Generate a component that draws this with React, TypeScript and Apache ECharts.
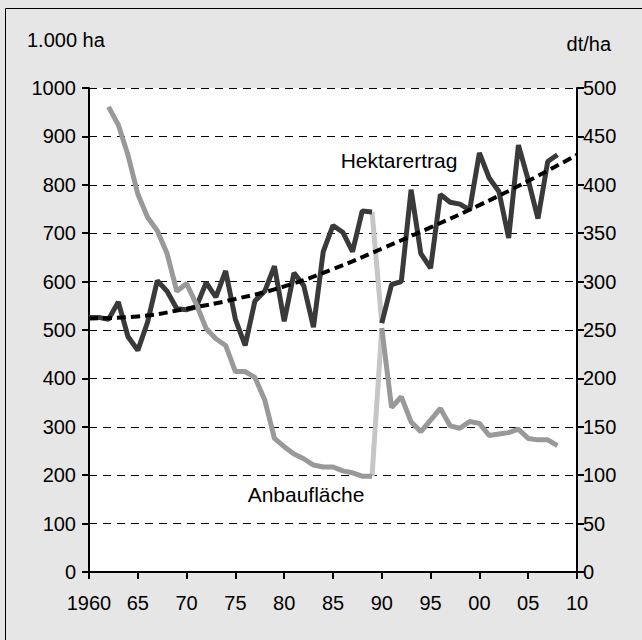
import React, { useEffect, useRef } from "react";
import * as echarts from "echarts";

// Anbaufläche (1.000 ha), früheres Bundesgebiet 1962-1989
const anbauWestYears = [1962, 1963, 1964, 1965, 1966, 1967, 1968, 1969, 1970, 1971, 1972, 1973, 1974, 1975, 1976, 1977, 1978, 1979, 1980, 1981, 1982, 1983, 1984, 1985, 1986, 1987, 1988, 1989];
const anbauWest = [961, 924, 861, 781, 733, 705, 658, 580, 596, 553, 503, 482, 468, 414, 414, 402, 356, 276, 259, 244, 234, 221, 217, 217, 209, 205, 198, 198];
// Hektarertrag (dt/ha), früheres Bundesgebiet 1960-1989
const ertragWestYears = [1960, 1961, 1962, 1963, 1964, 1965, 1966, 1967, 1968, 1969, 1970, 1971, 1972, 1973, 1974, 1975, 1976, 1977, 1978, 1979, 1980, 1981, 1982, 1983, 1984, 1985, 1986, 1987, 1988, 1989];
const ertragWest = [263, 263, 261, 279, 243, 229, 258, 301, 290, 272, 271, 274, 299, 284, 311, 261, 234, 280, 290, 316, 259, 309, 296, 253, 331, 358, 351, 331, 373, 372];
// Deutschland 1990-2008
const gesamtYears = [1990, 1991, 1992, 1993, 1994, 1995, 1996, 1997, 1998, 1999, 2000, 2001, 2002, 2003, 2004, 2005, 2006, 2007, 2008];
const anbauGesamt = [504, 340, 362, 310, 290, 314, 338, 302, 297, 311, 307, 282, 285, 288, 295, 276, 273, 273, 261];
const ertragGesamt = [257, 297, 300, 395, 329, 314, 390, 382, 380, 374, 433, 407, 393, 345, 441, 405, 365, 424, 431];
// Trend Hektarertrag (dt/ha)
const trendYears = [1960, 1965, 1970, 1975, 1980, 1985, 1990, 1995, 2000, 2005, 2010];
const trendValues = [262, 264, 272, 282, 295, 313, 334, 356, 379, 404, 431];

const leftTicks = { min: 0, max: 1000, interval: 100 };
const rightTicks = { min: 0, max: 500, interval: 50 };
const xTicks = { min: 1960, max: 2010, interval: 5 };

const pairs = (xs: number[], ys: number[]) => xs.map((x, i) => [x, ys[i]]);

const FONT = "'Liberation Sans', Arial, sans-serif";

export default function App() {
  const ref = useRef<HTMLDivElement>(null);
  useEffect(() => {
    if (!ref.current) return;
    const chart = echarts.init(ref.current, null, { renderer: "svg" });
    const anbauBreak = [
      [anbauWestYears[anbauWestYears.length - 1], anbauWest[anbauWest.length - 1]],
      [gesamtYears[0], anbauGesamt[0]],
    ];
    const ertragBreak = [
      [ertragWestYears[ertragWestYears.length - 1], ertragWest[ertragWest.length - 1]],
      [gesamtYears[0], ertragGesamt[0]],
    ];
    const lineBase = { type: "line", showSymbol: false, symbol: "none", silent: true };
    chart.setOption({
      animation: false,
      backgroundColor: "#e6e6e6",
      textStyle: { fontFamily: FONT },
      grid: {
        left: 89,
        right: 65,
        top: 88,
        bottom: 68,
        show: true,
        backgroundColor: "#ffffff",
        borderWidth: 0,
      },
      xAxis: {
        type: "value",
        min: xTicks.min,
        max: xTicks.max,
        interval: xTicks.interval,
        axisLine: { lineStyle: { color: "#000", width: 2 } },
        axisTick: { show: true, length: 7, lineStyle: { color: "#000", width: 2 } },
        splitLine: { show: false },
        axisLabel: {
          color: "#000",
          fontSize: 20,
          fontFamily: FONT,
          margin: 21,
          formatter: (v: number) => (v === 1960 ? "1960" : String(v % 100).padStart(2, "0")),
        },
      },
      yAxis: [
        {
          type: "value",
          position: "left",
          min: leftTicks.min,
          max: leftTicks.max,
          interval: leftTicks.interval,
          axisLine: { show: true, lineStyle: { color: "#000", width: 2 } },
          axisTick: { show: true, length: 7, lineStyle: { color: "#000", width: 2 } },
          splitLine: { show: true, lineStyle: { color: "#000", width: 1, type: [8, 6] } },
          axisLabel: { color: "#000", fontSize: 20, fontFamily: FONT, margin: 13, formatter: (v: number) => String(v) },
        },
        {
          type: "value",
          position: "right",
          min: rightTicks.min,
          max: rightTicks.max,
          interval: rightTicks.interval,
          axisLine: { show: true, lineStyle: { color: "#000", width: 2 } },
          axisTick: { show: true, length: 7, lineStyle: { color: "#000", width: 2 } },
          splitLine: { show: false },
          axisLabel: { color: "#000", fontSize: 20, fontFamily: FONT, margin: 6, formatter: (v: number) => String(v) },
        },
      ],
      graphic: [
        {
          type: "rect",
          shape: { x: 5.5, y: 8.5, width: 660, height: 660 },
          style: { fill: "none", stroke: "#000", lineWidth: 1 },
          silent: true,
          z: 100,
        },
        {
          type: "text",
          left: 27,
          top: 30,
          style: { text: "1.000 ha", fontSize: 20, fontFamily: FONT, fill: "#000" },
        },
        {
          type: "text",
          right: 31,
          top: 34,
          style: { text: "dt/ha", fontSize: 20, fontFamily: FONT, fill: "#000" },
        },
        {
          type: "text",
          x: 399,
          y: 160,
          style: { text: "Hektarertrag", fontSize: 21, fontFamily: FONT, fill: "#000", align: "center", verticalAlign: "middle" },
          z: 50,
        },
        {
          type: "text",
          x: 306,
          y: 494,
          style: { text: "Anbaufläche", fontSize: 21, fontFamily: FONT, fill: "#000", align: "center", verticalAlign: "middle" },
          z: 50,
        },
      ],
      series: [
        {
          ...lineBase,
          name: "Hektarertrag West",
          yAxisIndex: 1,
          data: pairs(ertragWestYears, ertragWest),
          lineStyle: { color: "#3a3a3a", width: 5 },
          z: 3,
        },
        {
          ...lineBase,
          name: "Hektarertrag",
          yAxisIndex: 1,
          data: pairs(gesamtYears, ertragGesamt),
          lineStyle: { color: "#3a3a3a", width: 5 },
          z: 3,
        },
        {
          ...lineBase,
          name: "Hektarertrag Bruch",
          yAxisIndex: 1,
          data: ertragBreak,
          lineStyle: { color: "#c6c6c6", width: 5 },
          z: 2,
        },
        {
          ...lineBase,
          name: "Anbaufläche West",
          yAxisIndex: 0,
          data: pairs(anbauWestYears, anbauWest),
          lineStyle: { color: "#999999", width: 5 },
          z: 4,
        },
        {
          ...lineBase,
          name: "Anbaufläche",
          yAxisIndex: 0,
          data: pairs(gesamtYears, anbauGesamt),
          lineStyle: { color: "#999999", width: 5 },
          z: 4,
        },
        {
          ...lineBase,
          name: "Anbaufläche Bruch",
          yAxisIndex: 0,
          data: anbauBreak,
          lineStyle: { color: "#c6c6c6", width: 5 },
          z: 2,
        },
        {
          ...lineBase,
          name: "Trend",
          yAxisIndex: 1,
          smooth: true,
          data: pairs(trendYears, trendValues),
          lineStyle: { color: "#000", width: 4, type: [9, 5] },
          z: 6,
        },
      ],
    });
    return () => chart.dispose();
  }, []);
  return (
    <div
      ref={ref}
      style={{ position: "absolute", left: 0, top: 0, width: 642, height: 640 }}
    />
  );
}
